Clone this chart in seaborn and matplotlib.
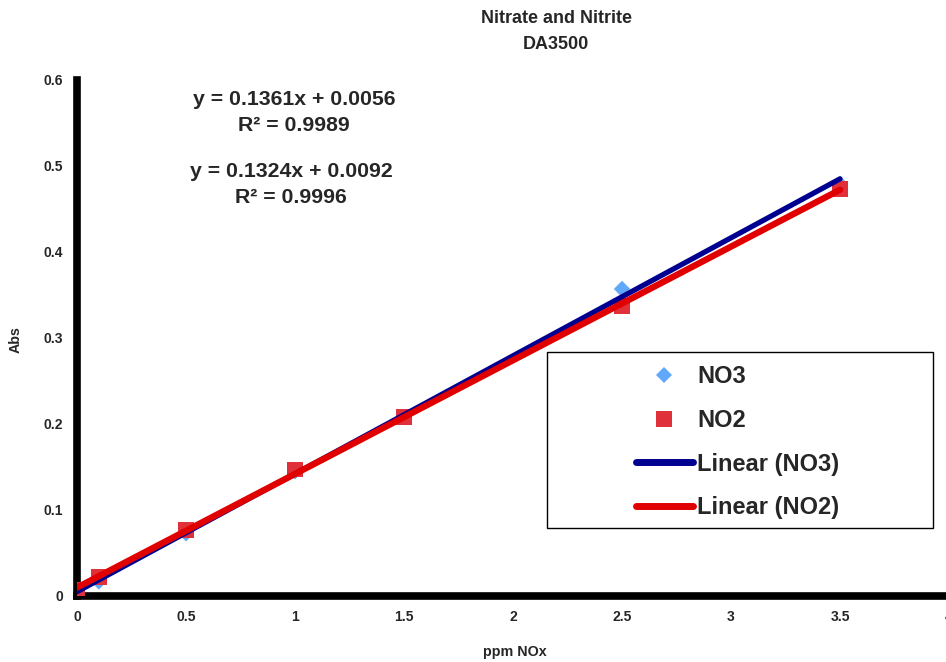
import numpy as np
import pandas as pd
import seaborn as sns
import matplotlib.pyplot as plt
from matplotlib.lines import Line2D
from matplotlib.patches import Rectangle

conc = [0, 0.1, 0.5, 1, 1.5, 2.5, 3.5]
no3_abs = [0.004, 0.017, 0.073, 0.145, 0.208, 0.357, 0.479]
no2_abs = [0.007, 0.022, 0.077, 0.147, 0.208, 0.337, 0.473]

eq_no3 = "y = 0.1361x + 0.0056\nR² = 0.9989"
eq_no2 = "y = 0.1324x + 0.0092\nR² = 0.9996"

no3_pt = "#62a8f8"
no2_pt = "#e0303a"
no3_line = "#000090"
no2_line = "#e00000"

df = pd.DataFrame({"conc": conc, "NO3": no3_abs, "NO2": no2_abs})

sns.set_style("white")
plt.rcParams["font.family"] = ["Liberation Sans", "DejaVu Sans"]

W, H = 946, 662
fig = plt.figure(figsize=(9.46, 6.62), dpi=100)
ax = fig.add_axes([0.0814, 0.0997, 0.9218, 0.7795])

sns.scatterplot(data=df, x="conc", y="NO3", marker="D", s=70, color=no3_pt,
                edgecolor="none", ax=ax, zorder=3)
sns.scatterplot(data=df, x="conc", y="NO2", marker="s", s=130, color=no2_pt,
                edgecolor="none", ax=ax, zorder=3)
sns.regplot(data=df, x="conc", y="NO3", scatter=False, ci=None, truncate=True,
            color=no3_line, line_kws={"lw": 3.8, "solid_capstyle": "round", "zorder": 4}, ax=ax)
sns.regplot(data=df, x="conc", y="NO2", scatter=False, ci=None, truncate=True,
            color=no2_line, line_kws={"lw": 4.6, "solid_capstyle": "round", "zorder": 5}, ax=ax)

ax.set_xlim(0, 4)
ax.set_ylim(0, 0.6)
ax.set_xticks([0, 0.5, 1, 1.5, 2, 2.5, 3, 3.5, 4])
ax.set_xticklabels(["0", "0.5", "1", "1.5", "2", "2.5", "3", "3.5", "4"])
ax.set_yticks([0, 0.1, 0.2, 0.3, 0.4, 0.5, 0.6])
ax.set_yticklabels(["0", "0.1", "0.2", "0.3", "0.4", "0.5", "0.6"])
for lab in ax.get_xticklabels() + ax.get_yticklabels():
    lab.set_fontweight("bold")
    lab.set_fontsize(10)
ax.tick_params(axis="both", length=3, width=2, color="black", pad=7)

for side in ["top", "right"]:
    ax.spines[side].set_visible(False)
for side in ["left", "bottom"]:
    ax.spines[side].set_linewidth(5.5)
    ax.spines[side].set_color("black")
ax.patch.set_alpha(0)

ax.set_xlabel("")
ax.set_ylabel("")
fig.text(515 / W, 1 - 652 / H, "ppm NOx", ha="center", va="center",
         fontsize=10.3, fontweight="bold")
fig.text(16 / W, 1 - 340 / H, "Abs", ha="center", va="center",
         fontsize=10.3, fontweight="bold", rotation=90)
fig.text(556 / W, 1 - 31.5 / H, "Nitrate and Nitrite\nDA3500", ha="center",
         va="center", fontsize=13, fontweight="bold", linespacing=1.75)

fig.text(294 / W, 1 - 112.5 / H, eq_no3, ha="center", va="center",
         fontsize=15.3, fontweight="bold", linespacing=1.45)
fig.text(291 / W, 1 - 184.5 / H, eq_no2, ha="center", va="center",
         fontsize=15.3, fontweight="bold", linespacing=1.45)

# legend frame drawn separately so it can be wider than its entries
fig.patches.append(Rectangle((547 / W, 1 - 528 / H), 386 / W, 176 / H,
                             transform=fig.transFigure, fill=True,
                             facecolor="white", edgecolor="black", lw=1.0,
                             zorder=6))
handles = [
    Line2D([], [], marker="D", ls="none", color=no3_pt, markersize=8, markeredgewidth=0),
    Line2D([], [], marker="s", ls="none", color=no2_pt, markersize=11, markeredgewidth=0),
    Line2D([], [], color=no3_line, lw=5, solid_capstyle="round"),
    Line2D([], [], color=no2_line, lw=5, solid_capstyle="round"),
]
labels = ["NO3", "NO2", "Linear (NO3)", "Linear (NO2)"]
leg = fig.legend(handles, labels, loc="upper left",
                 bbox_to_anchor=(636 / W, 1 - 365 / H), frameon=False,
                 handlelength=2.4, handletextpad=0.2, labelspacing=0.88,
                 borderpad=0, borderaxespad=0,
                 prop={"weight": "bold", "size": 17})
leg.set_zorder(7)

fig.savefig("out.png", dpi=100)
